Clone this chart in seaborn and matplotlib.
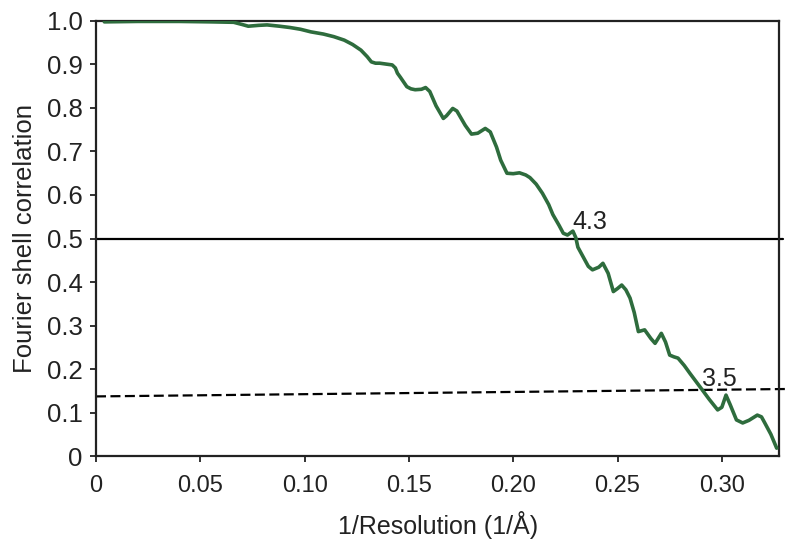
import numpy as np
import pandas as pd
import matplotlib
matplotlib.use('Agg')
import matplotlib.pyplot as plt
import seaborn as sns

# FSC curve
resolution = [0.004, 0.02, 0.04, 0.055, 0.066, 0.070, 0.073, 0.078, 0.082, 0.088,
              0.093, 0.098, 0.103, 0.109, 0.114, 0.119, 0.123, 0.127, 0.130, 0.132,
              0.134, 0.136, 0.139, 0.142, 0.1435, 0.1445, 0.146, 0.149, 0.151, 0.153,
              0.156, 0.158, 0.160, 0.163, 0.1665, 0.168, 0.171, 0.173, 0.177, 0.180,
              0.183, 0.1866, 0.189, 0.192, 0.194, 0.197, 0.200, 0.203, 0.206, 0.208,
              0.211, 0.214, 0.217, 0.219, 0.222, 0.224, 0.226, 0.2286, 0.230, 0.231,
              0.2335, 0.236, 0.238, 0.241, 0.243, 0.2455, 0.248, 0.250, 0.252, 0.254,
              0.256, 0.258, 0.260, 0.263, 0.266, 0.268, 0.271, 0.273, 0.275, 0.277,
              0.279, 0.282, 0.2847, 0.290, 0.294, 0.298, 0.300, 0.302, 0.304, 0.307,
              0.310, 0.313, 0.317, 0.319, 0.3206, 0.3235, 0.3263]
fsc = [0.998, 0.999, 0.999, 0.998, 0.997, 0.992, 0.988, 0.990, 0.991, 0.988,
       0.985, 0.981, 0.975, 0.970, 0.964, 0.956, 0.946, 0.933, 0.918, 0.906,
       0.903, 0.903, 0.901, 0.899, 0.892, 0.880, 0.870, 0.849, 0.844, 0.842,
       0.843, 0.847, 0.838, 0.805, 0.776, 0.782, 0.799, 0.793, 0.760, 0.740,
       0.742, 0.753, 0.745, 0.710, 0.680, 0.650, 0.649, 0.651, 0.646, 0.640,
       0.625, 0.604, 0.578, 0.555, 0.530, 0.512, 0.508, 0.517, 0.502, 0.480,
       0.458, 0.436, 0.428, 0.434, 0.443, 0.420, 0.378, 0.385, 0.393, 0.382,
       0.363, 0.330, 0.286, 0.290, 0.270, 0.259, 0.282, 0.262, 0.232, 0.228,
       0.225, 0.208, 0.190, 0.156, 0.130, 0.106, 0.112, 0.140, 0.118, 0.083,
       0.076, 0.082, 0.094, 0.090, 0.076, 0.050, 0.018]

# half-bit style threshold line (two end points)
thresh_x = [0.0, 0.3305]
thresh_y = [0.137, 0.154]

xticks = [0, 0.05, 0.10, 0.15, 0.20, 0.25, 0.30]
xticklabels = ['0', '0.05', '0.10', '0.15', '0.20', '0.25', '0.30']
yticks = [0, 0.1, 0.2, 0.3, 0.4, 0.5, 0.6, 0.7, 0.8, 0.9, 1.0]
yticklabels = ['0', '0.1', '0.2', '0.3', '0.4', '0.5', '0.6', '0.7', '0.8', '0.9', '1.0']

df = pd.DataFrame({'res': resolution, 'fsc': fsc})

sns.set_style('ticks')
plt.rcParams['font.family'] = ['Liberation Sans', 'DejaVu Sans']

fig = plt.figure(figsize=(8, 5.51), dpi=100)
ax = fig.add_axes([0.12, 0.1724, 0.854, 0.7895])

sns.lineplot(data=df, x='res', y='fsc', ax=ax, sort=False, estimator=None,
             color='#2e6c3d', linewidth=2.6, zorder=3)
ax.axhline(0.5, color='black', linewidth=1.6, clip_on=False, xmax=1.005, zorder=2)
ax.plot(thresh_x, thresh_y, color='black', linewidth=1.6, linestyle=(0, (4.5, 2)),
        clip_on=False, zorder=2)

ax.text(0.2285, 0.522, '4.3', fontsize=18, color='#222222')
ax.text(0.2905, 0.161, '3.5', fontsize=18, color='#222222')

ax.set_xlim(0, 0.3275)
ax.set_ylim(0, 1.0)
ax.set_xticks(xticks)
ax.set_xticklabels(xticklabels, fontsize=17)
ax.set_yticks(yticks)
ax.set_yticklabels(yticklabels, fontsize=18.5)
ax.tick_params(axis='both', direction='out', length=4.5, width=1.3, color='#222222',
               labelcolor='#222222')
ax.tick_params(axis='x', pad=9)
ax.tick_params(axis='y', pad=5)
for side in ['left', 'right', 'top', 'bottom']:
    ax.spines[side].set_visible(True)
    ax.spines[side].set_linewidth(1.6)
    ax.spines[side].set_color('#222222')

ax.set_xlabel('1/Resolution (1/Å)', fontsize=18, color='#222222', labelpad=10)
ax.set_ylabel('Fourier shell correlation', fontsize=18.5, color='#222222', labelpad=7)

fig.savefig('out.png', dpi=100)
